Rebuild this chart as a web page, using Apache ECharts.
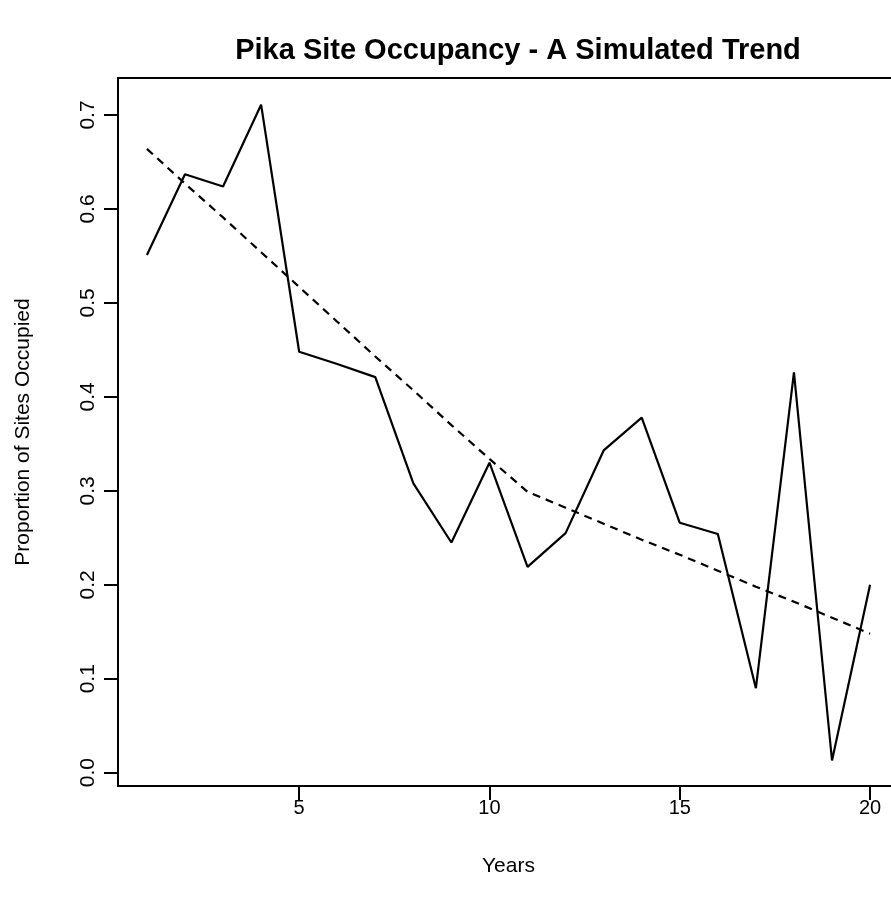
<!DOCTYPE html>
<html>
<head>
<meta charset="utf-8">
<script src="https://cdn.jsdelivr.net/npm/echarts@6/dist/echarts.min.js"></script>
<style>
html,body{margin:0;padding:0;background:#fff;}
#chart{width:891px;height:908px;}
</style>
</head>
<body>
<div id="chart"></div>
<script>
var years = [1,2,3,4,5,6,7,8,9,10,11,12,13,14,15,16,17,18,19,20];
var occupancy = [0.551,0.637,0.624,0.711,0.448,0.435,0.421,0.308,0.245,0.330,0.219,0.255,0.343,0.378,0.266,0.254,0.090,0.426,0.013,0.200];
var trend = [0.664,0.627,0.591,0.554,0.517,0.480,0.443,0.407,0.370,0.334,0.299,0.282,0.265,0.248,0.232,0.215,0.198,0.182,0.165,0.148];
var xTicks = [5,10,15,20];
var yTicks = [0.0,0.1,0.2,0.3,0.4,0.5,0.6,0.7];

var FONT = 'Liberation Sans, Arial, Helvetica, sans-serif';

function pairs(xs, ys){ return xs.map(function(x,i){ return [x, ys[i]]; }); }

var chart = echarts.init(document.getElementById('chart'), null, {renderer:'canvas'});
chart.setOption({
  animation:false,
  backgroundColor:'#ffffff',
  title:{
    text:'Pika Site Occupancy - A Simulated Trend',
    left:513, top:31, textAlign:'center',
    textStyle:{fontFamily:FONT, fontWeight:'bold', fontSize:29, color:'#000'}
  },
  grid:{
    left:118, top:78, width:781, height:708,
    show:true, borderColor:'#000', borderWidth:2, backgroundColor:'transparent',
    containLabel:false, outerBoundsMode:'none'
  },
  xAxis:{
    type:'value', min:0.24, max:20.76,
    name:'Years', nameLocation:'middle', nameGap:70,
    nameTextStyle:{fontFamily:FONT, fontSize:21, color:'#000'},
    axisLine:{show:true, onZero:false, lineStyle:{color:'#000', width:2}},
    axisTick:{show:true, customValues:xTicks, length:14, inside:false, lineStyle:{color:'#000', width:2}},
    axisLabel:{show:true, customValues:xTicks, margin:12, fontFamily:FONT, fontSize:20, color:'#000'},
    splitLine:{show:false}
  },
  yAxis:{
    type:'value', min:-0.01415, max:0.7394,
    name:'Proportion of Sites Occupied', nameLocation:'middle', nameGap:84, nameRotate:90,
    nameTextStyle:{fontFamily:FONT, fontSize:21, color:'#000'},
    axisLine:{show:true, onZero:false, lineStyle:{color:'#000', width:2}},
    axisTick:{show:true, customValues:yTicks, length:14, inside:false, lineStyle:{color:'#000', width:2}},
    axisLabel:{show:true, customValues:yTicks, rotate:90, margin:19, fontFamily:FONT, fontSize:21, color:'#000',
      formatter:function(v){ return v.toFixed(1); }},
    splitLine:{show:false}
  },
  series:[
    {type:'line', data:pairs(years, occupancy), symbol:'none', silent:true,
     lineStyle:{color:'#000', width:2.2}},
    {type:'line', data:pairs(years, trend), symbol:'none', silent:true,
     lineStyle:{color:'#000', width:2.2, type:[8,6]}}
  ]
});
</script>
</body>
</html>
